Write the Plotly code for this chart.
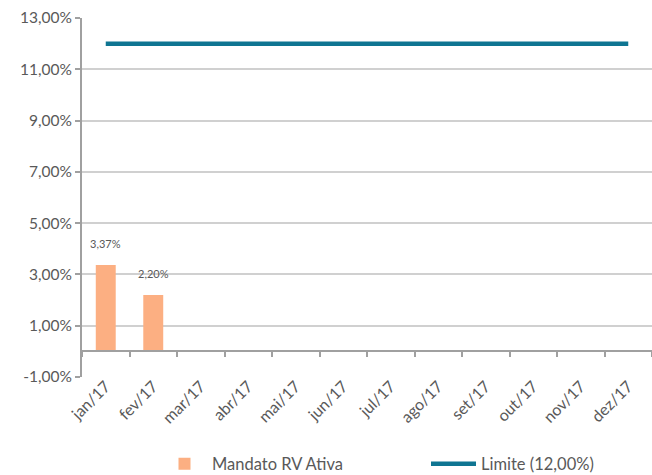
import plotly.graph_objects as go

months = ["jan/17", "fev/17", "mar/17", "abr/17", "mai/17", "jun/17",
          "jul/17", "ago/17", "set/17", "out/17", "nov/17", "dez/17"]
mandato = [0.0337, 0.0220, None, None, None, None, None, None, None, None, None, None]
bar_labels = ["3,37%", "2,20%"]
limite = [0.12] * 12
y_ticks = [-0.01, 0.01, 0.03, 0.05, 0.07, 0.09, 0.11, 0.13]
y_tick_labels = ["-1,00%", "1,00%", "3,00%", "5,00%", "7,00%", "9,00%", "11,00%", "13,00%"]

BAR_COLOR = "#FCAF82"
LINE_COLOR = "#0F7592"
TEXT_COLOR = "#595959"
GRID_COLOR = "#D0D0D0"
AXIS_COLOR = "#A0A0A0"
FONT = "Lato, 'Open Sans', sans-serif"

fig = go.Figure()
fig.add_trace(go.Bar(
    x=months, y=mandato, name="Mandato RV Ativa",
    marker=dict(color=BAR_COLOR, line=dict(width=0)),
    width=0.42,
    xaxis="x", yaxis="y", legend="legend",
))
fig.add_trace(go.Scatter(
    x=months, y=limite, name="Limite (12,00%)", mode="lines",
    line=dict(color=LINE_COLOR, width=4.5),
    xaxis="x2", yaxis="y", legend="legend2",
))

for m, v, lab in zip(months, mandato, bar_labels):
    fig.add_annotation(x=m, y=v, xref="x", yref="y", text=lab,
                       showarrow=False, yanchor="bottom", yshift=13,
                       font=dict(size=11, color=TEXT_COLOR, family=FONT))

fig.update_layout(
    width=652, height=475,
    margin=dict(l=82, r=0, t=18, b=98, autoexpand=False),
    paper_bgcolor="white", plot_bgcolor="white",
    separators=",.",
    font=dict(family=FONT, color=TEXT_COLOR, size=15),
    showlegend=True,
    legend=dict(orientation="h", xref="container", yref="container",
                x=157 / 652, xanchor="left",
                y=1 - 464 / 475, yanchor="middle",
                font=dict(size=16.5, color=TEXT_COLOR, family=FONT),
                itemwidth=45, bgcolor="rgba(0,0,0,0)"),
    legend2=dict(orientation="h", xref="container", yref="container",
                 x=426 / 652, xanchor="left",
                 y=1 - 464 / 475, yanchor="middle",
                 font=dict(size=16.5, color=TEXT_COLOR, family=FONT),
                 itemwidth=45, bgcolor="rgba(0,0,0,0)"),
    xaxis=dict(
        type="category", categoryorder="array", categoryarray=months,
        range=[-0.5, 11.5], showgrid=False, showline=False, zeroline=False,
        ticks="", tickangle=-45, automargin=False, ticklabelstandoff=-4,
        tickfont=dict(size=16, color=TEXT_COLOR, family=FONT),
    ),
    xaxis2=dict(
        type="category", categoryorder="array", categoryarray=months,
        overlaying="x", anchor="free", position=(0 - (-0.01)) / 0.14,
        range=[-0.5, 11.5], showgrid=False, zeroline=False,
        showline=True, linecolor=AXIS_COLOR, linewidth=2,
        ticks="outside", ticklen=5, tickwidth=1.5, tickcolor=AXIS_COLOR,
        tickson="boundaries", showticklabels=False, automargin=False,
    ),
    yaxis=dict(
        range=[-0.01, 0.13], tickvals=y_ticks, ticktext=y_tick_labels,
        showgrid=True, gridcolor=GRID_COLOR, gridwidth=1.5,
        showline=True, linecolor=AXIS_COLOR, linewidth=2,
        ticks="outside", ticklen=5, tickwidth=1.5, tickcolor=AXIS_COLOR,
        zeroline=False, automargin=False,
        tickfont=dict(size=15.5, color=TEXT_COLOR, family=FONT),
    ),
)

fig.write_html(
    "out.html",
    config={"displayModeBar": False},
    post_script="document.body.style.margin='0';document.body.style.overflow='hidden';",
)
